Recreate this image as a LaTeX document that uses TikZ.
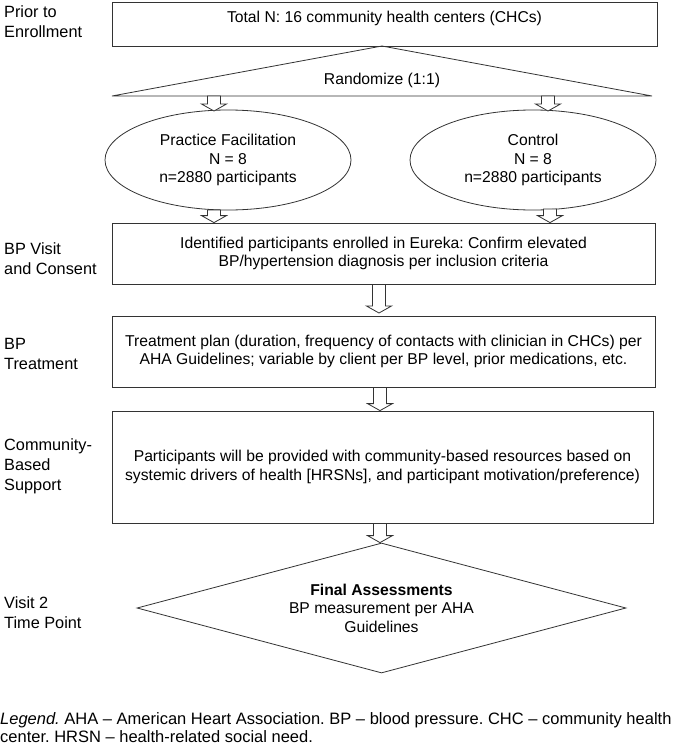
\documentclass[tikz,border=0pt]{standalone}
\usepackage{fontspec}
\setmainfont{Liberation Sans}
\usetikzlibrary{shapes.geometric,calc}
\frenchspacing
\begin{document}
\frenchspacing
\begin{tikzpicture}[x=1pt,y=-1pt,
  line/.style={draw=black!80, line width=0.8pt},
  txt/.style={font=\fontsize{15.7}{18.5}\selectfont, text=black},
  box/.style={line, txt, rectangle, inner sep=0pt, align=center},
  lbl/.style={anchor=west, align=left, inner sep=0pt, font=\fontsize{16.3}{20}\selectfont, text=black},
  blockarrow/.style={line, fill=white, to path={let \p1=(\tikztostart), \p2=(\tikztotarget) in
    ({\x1-6.5pt},\y1) -- ({\x1+6.5pt},\y1) -- ({\x1+6.5pt},{\y2+7pt}) -- ({\x1+12.5pt},{\y2+7pt})
    -- (\x1,\y2) -- ({\x1-12.5pt},{\y2+7pt}) -- ({\x1-6.5pt},{\y2+7pt}) -- cycle}}
]
\fill[white] (0,0) rectangle (685,747);
\useasboundingbox (0,0) rectangle (685,747);

% side labels
\node[lbl] (l1) at (4,22) {Prior to\\Enrollment};
\node[lbl] (l2) at (4,259) {BP Visit\\and Consent};
\node[lbl] (l3) at (4,354) {BP\\Treatment};
\node[lbl] (l4) at (4,466) {Community-\\Based\\Support};
\node[lbl] (l5) at (4,613) {Visit 2\\Time Point};

% top box
\node[box, minimum width=545pt, minimum height=44pt] (total) at (384.5,24) {};
\node[txt] (totaltxt) at (384.5,18) {Total N: 16 community health centers (CHCs)};

% randomize triangle
\coordinate (apex) at (382,46);
\coordinate (triL) at (112,96);
\coordinate (triR) at (652,96);
\draw[line] (apex) -- (triR) -- (triL) -- cycle;
\node[txt] (rand) at (382,80) {Randomize (1:1)};

% ellipses
\node[line, txt, ellipse, minimum width=246pt, minimum height=100pt, inner sep=0pt, align=center] (pf) at (228,160) {Practice Facilitation\\N = 8\\n=2880 participants};
\node[line, txt, ellipse, minimum width=246pt, minimum height=100pt, inner sep=0pt, align=center] (ctrl) at (533,160) {Control\\N = 8\\n=2880 participants};

% boxes
\node[box, minimum width=543pt, minimum height=61pt] (visit) at (383.5,253.5) {Identified participants enrolled in Eureka: Confirm elevated\\BP/hypertension diagnosis per inclusion criteria};
\node[box, minimum width=543pt, minimum height=71pt] (treat) at (383.5,351.5) {Treatment plan (duration, frequency of contacts with clinician in CHCs) per\\AHA Guidelines; variable by client per BP level, prior medications, etc.};
\node[box, minimum width=541pt, minimum height=112pt] (comm) at (382.5,467) {Participants will be provided with community-based resources based on\\systemic drivers of health [HRSNs], and participant motivation/preference)};

% diamond
\node[line, txt, diamond, aspect=3.76, minimum width=489pt, minimum height=130pt, inner sep=0pt, align=center] (final) at (381.5,608) {\textbf{Final Assessments}\\BP measurement per AHA\\Guidelines};

% legend
\node[anchor=west, inner sep=0pt, align=left, font=\fontsize{16.5}{18}\selectfont, text=black] (legend) at (0,728) {\textit{Legend.} AHA -- American Heart Association. BP -- blood pressure. CHC -- community health\\center. HRSN -- health-related social need.};

% block arrows
\coordinate (a1s) at (214,96);
\coordinate (a1e) at (214,111);
\coordinate (a2s) at (548,96);
\coordinate (a2e) at (548,111);
\coordinate (a3s) at (214,210);
\coordinate (a3e) at (214,0 |- visit.north);
\coordinate (a4s) at (550,209);
\coordinate (a4e) at (550,0 |- visit.north);
\coordinate (a5s) at (379,0 |- visit.south);
\coordinate (a5e) at (379,313);
\coordinate (a6s) at (380,0 |- treat.south);
\coordinate (a6e) at (380,0 |- comm.north);
\coordinate (a7s) at (380,0 |- comm.south);
\coordinate (a7e) at (380,0 |- final.north);
\draw[blockarrow] (a1s) to (a1e);
\draw[blockarrow] (a2s) to (a2e);
\draw[blockarrow] (a3s) to (a3e);
\draw[blockarrow] (a4s) to (a4e);
\draw[blockarrow] (a5s) to (a5e);
\draw[blockarrow] (a6s) to (a6e);
\draw[blockarrow] (a7s) to (a7e);
\end{tikzpicture}
\end{document}
